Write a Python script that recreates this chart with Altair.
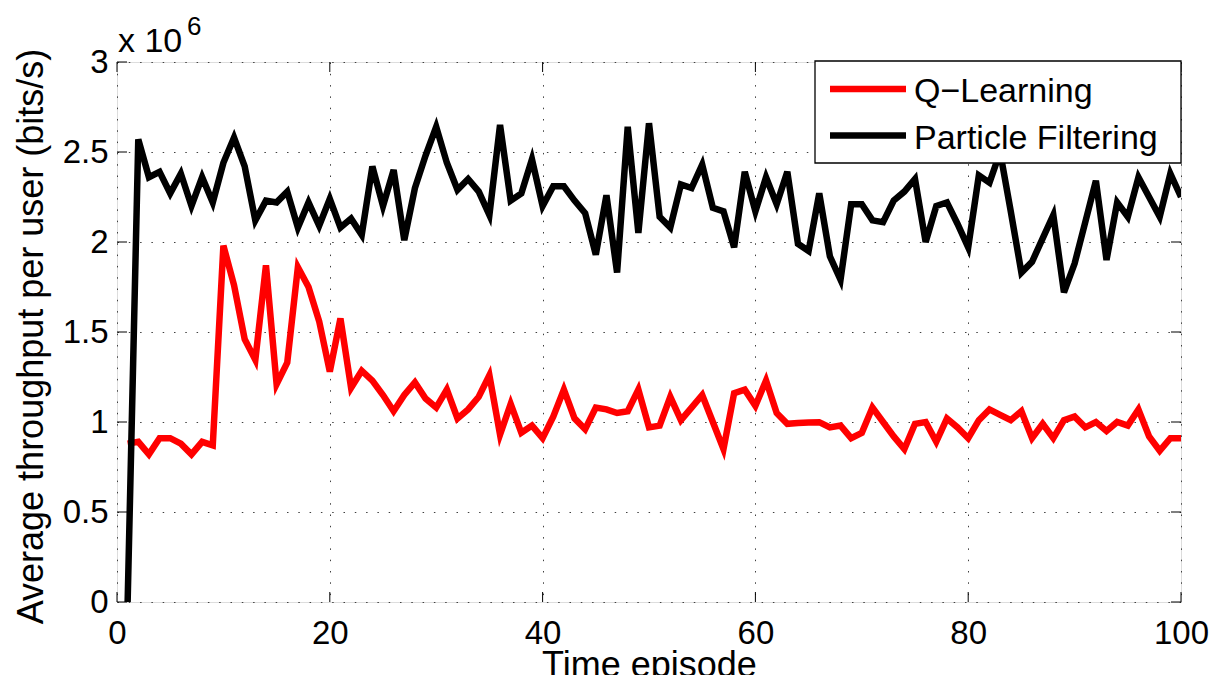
import altair as alt
import pandas as pd

episodes = list(range(1, 101))

q_learning = [
    0.88, 0.89, 0.82, 0.91, 0.91, 0.88, 0.82, 0.89, 0.87, 1.98,
    1.76, 1.46, 1.345, 1.87, 1.21, 1.33, 1.86, 1.75, 1.56, 1.28,
    1.575, 1.19, 1.285, 1.23, 1.15, 1.06, 1.15, 1.22, 1.13, 1.08,
    1.18, 1.02, 1.07, 1.14, 1.26, 0.93, 1.10, 0.94, 0.98, 0.91,
    1.03, 1.18, 1.02, 0.96, 1.08, 1.07, 1.05, 1.06, 1.18, 0.97,
    0.98, 1.14, 1.01, 1.08, 1.15, 1.00, 0.85, 1.16, 1.18, 1.09,
    1.23, 1.05, 0.99, 0.995, 0.997, 0.999, 0.97, 0.98, 0.91, 0.94,
    1.08, 1.00, 0.92, 0.85, 0.99, 1.00, 0.89, 1.02, 0.97, 0.91,
    1.01, 1.07, 1.04, 1.01, 1.06, 0.91, 0.99, 0.91, 1.01, 1.03,
    0.97, 1.00, 0.95, 1.00, 0.98, 1.07, 0.92, 0.84, 0.91, 0.91,
]

particle_filtering = [
    0.0, 2.57, 2.36, 2.39, 2.27, 2.38, 2.20, 2.36, 2.22, 2.44,
    2.58, 2.42, 2.12, 2.23, 2.22, 2.28, 2.08, 2.22, 2.09, 2.24,
    2.08, 2.13, 2.04, 2.42, 2.20, 2.40, 2.01, 2.30, 2.48, 2.64,
    2.44, 2.29, 2.35, 2.28, 2.15, 2.65, 2.23, 2.27, 2.46, 2.20,
    2.31, 2.31, 2.23, 2.16, 1.93, 2.26, 1.83, 2.64, 2.05, 2.66,
    2.14, 2.08, 2.32, 2.30, 2.43, 2.19, 2.17, 1.97, 2.39, 2.17,
    2.36, 2.21, 2.39, 1.99, 1.95, 2.27, 1.92, 1.79, 2.21, 2.21,
    2.12, 2.11, 2.23, 2.28, 2.35, 2.00, 2.20, 2.22, 2.10, 1.97,
    2.37, 2.33, 2.50, 2.17, 1.83, 1.89, 2.02, 2.15, 1.72, 1.88,
    2.11, 2.34, 1.90, 2.22, 2.14, 2.36, 2.25, 2.14, 2.38, 2.25,
]

series_names = ["Q\u2212Learning", "Particle Filtering"]
series_colors = ["#ff0000", "#000000"]
x_ticks = [0, 20, 40, 60, 80, 100]
y_ticks = [0, 0.5, 1, 1.5, 2, 2.5, 3]

FONT = "Liberation Sans"
W, H = 1064, 540

df_q = pd.DataFrame({"episode": episodes, "value": q_learning})
df_pf = pd.DataFrame({"episode": episodes, "value": particle_filtering})
df_xt = pd.DataFrame({"t": x_ticks})
df_yt = pd.DataFrame({"t": y_ticks})
one = pd.DataFrame({"a": [0]})

xs = alt.Scale(domain=[0, 100], nice=False, zero=False)
ys = alt.Scale(domain=[0, 3], nice=False)

grid_kw = dict(grid=True, gridColor="#404040", gridDash=[1.5, 9.8], gridWidth=1)

xaxis = alt.Axis(
    values=x_ticks, format="d", domain=False, ticks=False, tickSize=0,
    labelFont=FONT, labelFontSize=33, labelColor="black", labelPadding=15.5,
    labelFlush=False, labelOverlap=False,
    title="Time episode", titleFont=FONT, titleFontSize=36, titleFontWeight="normal",
    titleColor="black", titleY=74, titleBaseline="alphabetic", **grid_kw,
)
yaxis = alt.Axis(
    values=y_ticks, format="~g", domain=False, ticks=False, tickSize=0,
    labelFont=FONT, labelFontSize=33, labelColor="black", labelPadding=9,
    labelFlush=False, labelOverlap=False,
    title="Average throughput  per user (bits/s)", titleFont=FONT, titleFontSize=36,
    titleFontWeight="normal", titleColor="black", titleX=-75, titleY=274,
    titleAngle=-90, titleBaseline="alphabetic", titleAlign="center", **grid_kw,
)

line_q = alt.Chart(df_q).mark_line(
    color=series_colors[0], strokeWidth=6.5, clip=True, strokeJoin="miter"
).encode(
    x=alt.X("episode:Q", scale=xs, axis=xaxis),
    y=alt.Y("value:Q", scale=ys, axis=yaxis),
)
line_pf = alt.Chart(df_pf).mark_line(
    color=series_colors[1], strokeWidth=6.5, clip=True, strokeJoin="miter"
).encode(
    x=alt.X("episode:Q", scale=xs, axis=xaxis),
    y=alt.Y("value:Q", scale=ys, axis=yaxis),
)

tick_b = alt.Chart(df_xt).mark_rule(color="black", strokeWidth=1).encode(
    x=alt.X("t:Q", scale=xs, axis=xaxis), y=alt.value(H), y2=alt.value(H - 10)
)
tick_t = alt.Chart(df_xt).mark_rule(color="black", strokeWidth=1).encode(
    x=alt.X("t:Q", scale=xs, axis=xaxis), y=alt.value(0), y2=alt.value(10)
)
tick_l = alt.Chart(df_yt).mark_rule(color="black", strokeWidth=1).encode(
    y=alt.Y("t:Q", scale=ys, axis=yaxis), x=alt.value(0), x2=alt.value(10)
)
tick_r = alt.Chart(df_yt).mark_rule(color="black", strokeWidth=1).encode(
    y=alt.Y("t:Q", scale=ys, axis=yaxis), x=alt.value(W), x2=alt.value(W - 10)
)

legend_box = alt.Chart(one).mark_rect(fill="white", stroke="black", strokeWidth=1.3).encode(
    x=alt.value(698), x2=alt.value(W), y=alt.value(-1), y2=alt.value(101)
)
leg_sym_q = alt.Chart(one).mark_rule(color=series_colors[0], strokeWidth=6.5).encode(
    x=alt.value(713), x2=alt.value(789), y=alt.value(27)
)
leg_sym_pf = alt.Chart(one).mark_rule(color=series_colors[1], strokeWidth=6.5).encode(
    x=alt.value(713), x2=alt.value(789), y=alt.value(73.5)
)
leg_txt_q = alt.Chart(one).mark_text(
    font=FONT, fontSize=34, align="left", baseline="alphabetic", color="black"
).encode(x=alt.value(797), y=alt.value(40.3), text=alt.value(series_names[0]))
leg_txt_pf = alt.Chart(one).mark_text(
    font=FONT, fontSize=34, align="left", baseline="alphabetic", color="black"
).encode(x=alt.value(797), y=alt.value(86.7), text=alt.value(series_names[1]))

exp_base = alt.Chart(one).mark_text(
    font=FONT, fontSize=34, align="left", baseline="alphabetic", color="black"
).encode(x=alt.value(1), y=alt.value(-10), text=alt.value("x 10"))
exp_sup = alt.Chart(one).mark_text(
    font=FONT, fontSize=26, align="left", baseline="alphabetic", color="black"
).encode(x=alt.value(70), y=alt.value(-27), text=alt.value("6"))

chart = alt.layer(
    line_q, line_pf, tick_b, tick_t, tick_l, tick_r,
    legend_box, leg_sym_q, leg_sym_pf, leg_txt_q, leg_txt_pf,
    exp_base, exp_sup,
).properties(
    width=W, height=H,
    autosize=alt.AutoSizeParams(type="none"),
    padding={"left": 109, "top": 54, "right": 30, "bottom": 73},
).configure_view(
    stroke="black", strokeWidth=1
).configure(
    font=FONT, background="white"
)

chart.save("out.html", embed_options={"renderer": "svg", "actions": False})
